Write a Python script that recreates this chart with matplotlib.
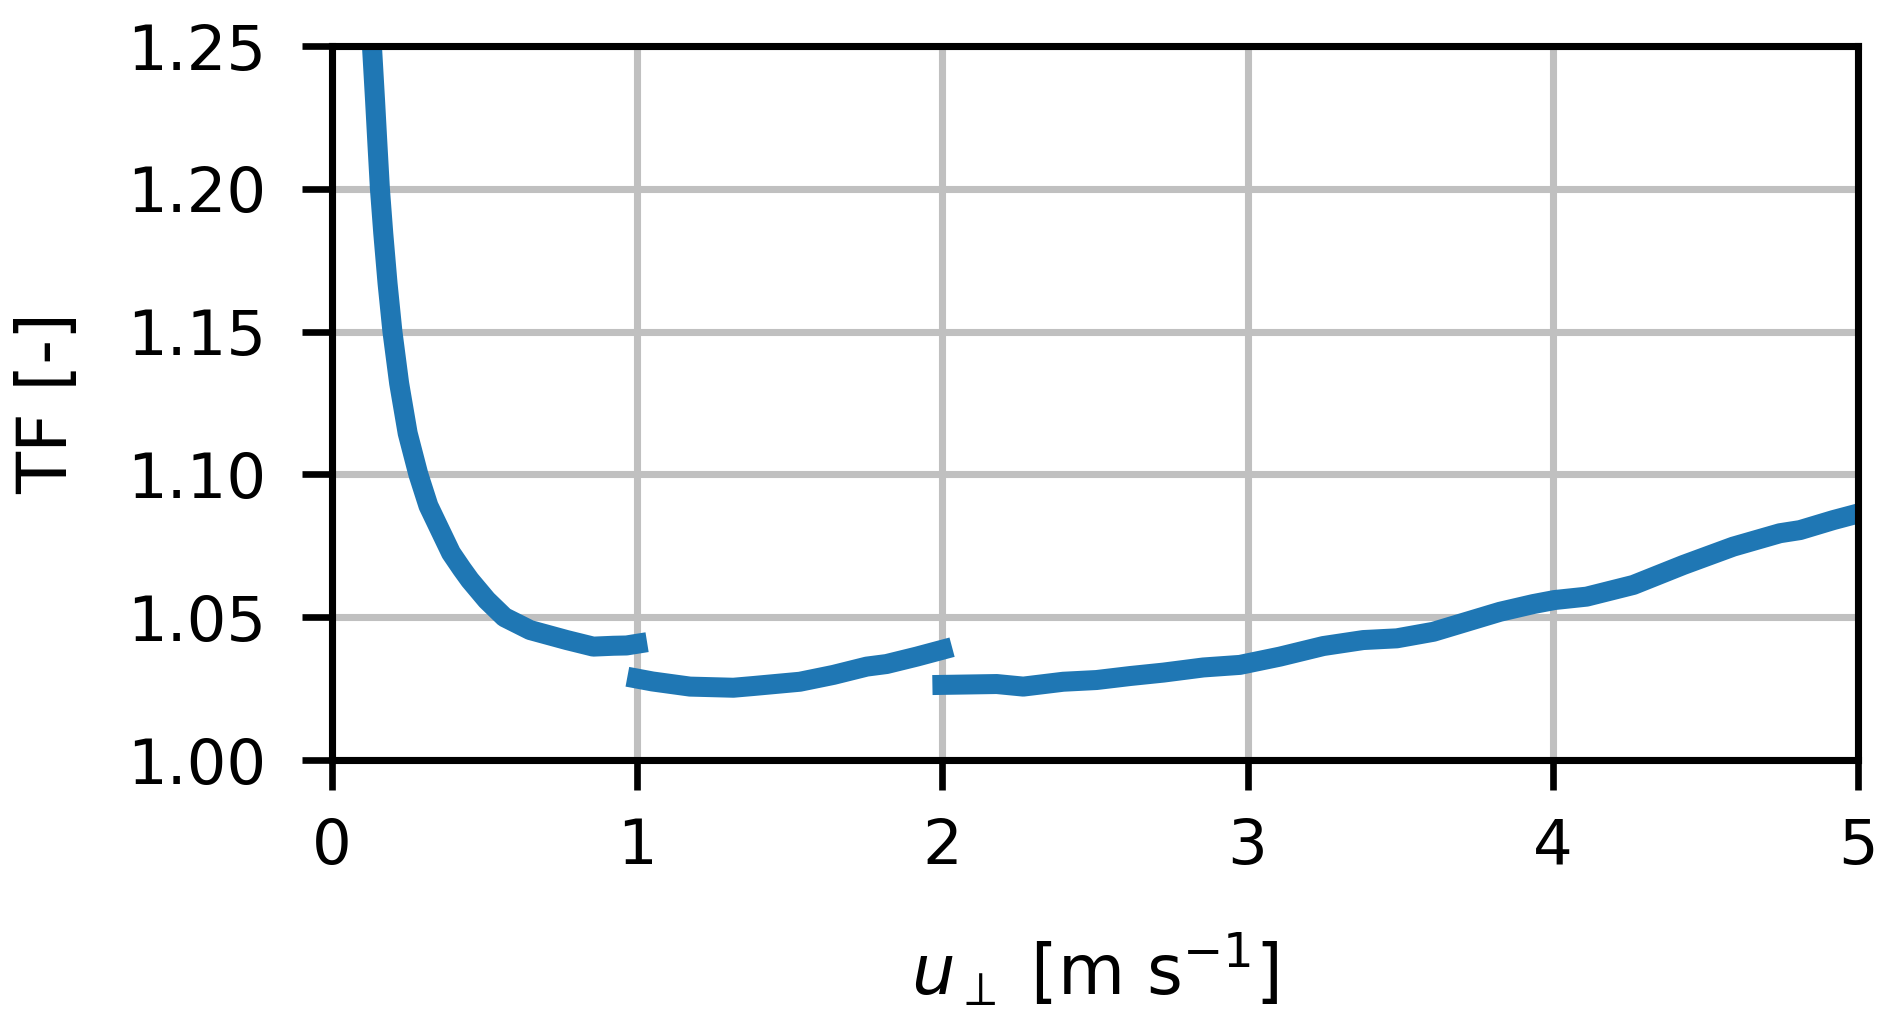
import numpy as np
import matplotlib
matplotlib.use("Agg")
import matplotlib.pyplot as plt

# TF vs wind speed, three pieces
u_1 = [0.12, 0.131, 0.141, 0.149, 0.157, 0.168, 0.182, 0.198, 0.220, 0.248, 0.283,
       0.316, 0.359, 0.390, 0.425, 0.452, 0.507, 0.565, 0.649, 0.769, 0.856,
       0.922, 0.965, 1.0]
tf_1 = [1.273, 1.2498, 1.2311, 1.2153, 1.200, 1.1844, 1.1669, 1.150, 1.1319, 1.1144,
        1.100, 1.0890, 1.0794, 1.0725, 1.0670, 1.0630, 1.0560, 1.0500, 1.0455,
        1.0420, 1.0397, 1.0400, 1.0401, 1.0407]

u_2 = [1.0, 1.05, 1.173, 1.315, 1.380, 1.533, 1.643, 1.752, 1.817, 1.916, 2.0]
tf_2 = [1.0285, 1.0275, 1.0257, 1.0253, 1.0259, 1.0274, 1.0298, 1.0327, 1.0336,
        1.0362, 1.0386]

u_3 = [2.0, 2.178, 2.265, 2.396, 2.505, 2.615, 2.724, 2.855, 2.975, 3.106, 3.248,
       3.379, 3.489, 3.609, 3.718, 3.827, 3.936, 4.005, 4.111, 4.264, 4.428,
       4.591, 4.744, 4.810, 4.919, 5.0]
tf_3 = [1.0263, 1.0266, 1.0257, 1.0274, 1.0280, 1.0294, 1.0306, 1.0324, 1.0333,
        1.0362, 1.0399, 1.0420, 1.0426, 1.0449, 1.0484, 1.0519, 1.0546, 1.0560,
        1.0572, 1.0613, 1.0683, 1.0747, 1.0794, 1.0805, 1.0840, 1.0863]

xticks = [0, 1, 2, 3, 4, 5]
yticks = [1.00, 1.05, 1.10, 1.15, 1.20, 1.25]

plt.rcParams['font.family'] = 'DejaVu Sans'
plt.rcParams['mathtext.fontset'] = 'dejavusans'

fig = plt.figure(figsize=(1892 / 300, 1018 / 300), dpi=300)
ax = fig.add_axes([332 / 1892, 1 - 760 / 1018, 1526 / 1892, 714 / 1018])

for u, tf in [(u_1, tf_1), (u_2, tf_2), (u_3, tf_3)]:
    ax.plot(u, tf, color='#1f77b4', lw=4.8)

ax.set_xlim(0, 5)
ax.set_ylim(1.0, 1.25)
ax.set_xticks(xticks)
ax.set_yticks(yticks)
ax.set_yticklabels([f"{v:.2f}" for v in yticks])
ax.grid(True, color='#c0c0c0', lw=1.7)
ax.set_axisbelow(True)

for s in ax.spines.values():
    s.set_linewidth(1.7)
    s.set_color('black')
ax.tick_params(axis='both', length=7.2, width=1.6, labelsize=15)
ax.tick_params(axis='x', pad=6.5)
ax.tick_params(axis='y', pad=8.5)

ax.set_xlabel(r"$u_\perp$ [m s$^{-1}$]", fontsize=16.5, labelpad=13)
ax.set_ylabel("TF [-]", fontsize=16.5, labelpad=11)

fig.savefig("out.png", dpi=300)
